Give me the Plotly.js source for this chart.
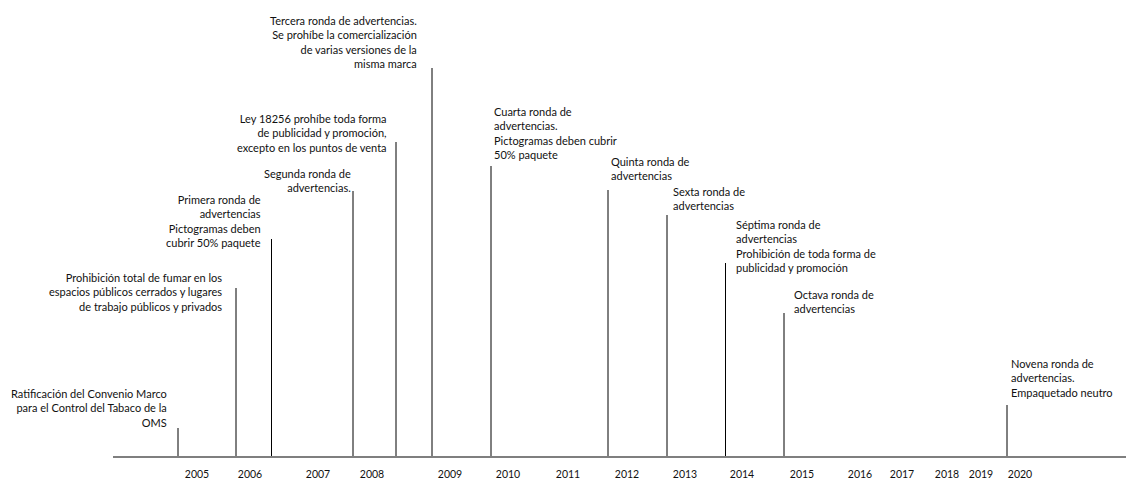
<!DOCTYPE html>
<html>
<head>
<meta charset="utf-8">
<script src="https://cdn.plot.ly/plotly-3.0.1.min.js"></script>
<style>
  html, body { margin: 0; padding: 0; background: #fff; }
  #chart { width: 1126px; height: 479px; }
</style>
</head>
<body>
<div id="chart"></div>
<script>
// ---- Data ----
// Tick labels (years) and their position along the timeline
const tickYears = ["2005","2006","2007","2008","2009","2010","2011","2012","2013","2014","2015","2016","2017","2018","2019","2020"];
const tickPos   = [84, 137, 205, 259, 337, 395, 455, 514, 572, 629, 689, 747, 789, 834, 868, 907];

// Events: position on the timeline, stem height, description
const eventPos    = [65, 123, 158.5, 240, 283, 319, 378, 495, 554, 612.5, 671, 894];
const eventHeight = [28, 168, 217, 265, 314, 388, 290, 266, 241, 193, 143, 51];
const eventText = [
  "Ratificación del Convenio Marco<br>para el Control del Tabaco de la<br>OMS",
  "Prohibición total de fumar en los<br>espacios públicos cerrados y lugares<br>de trabajo públicos y privados",
  "Primera ronda de<br>advertencias<br>Pictogramas deben<br>cubrir 50% paquete",
  "Segunda ronda de<br>advertencias.",
  "Ley 18256 prohíbe toda forma<br>de publicidad y promoción,<br>excepto en los puntos de venta",
  "Tercera ronda de advertencias.<br>Se prohíbe la comercialización<br>de varias versiones de la<br>misma marca",
  "Cuarta ronda de<br>advertencias.<br>Pictogramas deben cubrir<br>50% paquete",
  "Quinta ronda de<br>advertencias",
  "Sexta ronda de<br>advertencias",
  "Séptima ronda de<br>advertencias<br>Prohibición de toda forma de<br>publicidad y promoción",
  "Octava ronda de<br>advertencias",
  "Novena ronda de<br>advertencias.<br>Empaquetado neutro"
];

// ---- Label placement (layout only) ----
const labelSide = ["l","l","l","l","l","l","r","r","r","r","r","r"];
const labelX    = [55, 110, 149, 239, 275, 305, 380, 497, 559, 622, 680, 897];
const labelY    = [26.5, 142.5, 206.5, 261.5, 301.5, 385.5, 294.5, 273.5, 243.5, 181.5, 140.5, 56.5];

// Build stems
const sx = [], sy = [];
eventPos.forEach((p, i) => { sx.push(p, p, null); sy.push(0, eventHeight[i], null); });

const traces = [{
  type: "scatter", mode: "lines", x: sx, y: sy,
  line: { color: "#000", width: 1 }, hoverinfo: "skip", showlegend: false
}];

const FONT = "Lato, 'Open Sans', sans-serif";
const annotations = eventText.map((t, i) => ({
  x: labelX[i], y: labelY[i], xref: "x", yref: "y",
  text: t, showarrow: false,
  xanchor: labelSide[i] === "l" ? "right" : "left",
  yanchor: "bottom",
  align: labelSide[i] === "l" ? "right" : "left",
  font: { family: FONT, size: 11, color: "#111" },
  borderpad: 0
}));

const layout = {
  width: 1126, height: 479,
  margin: { l: 113, r: 0, t: 0, b: 23, pad: 0 },
  paper_bgcolor: "#fff", plot_bgcolor: "#fff",
  showlegend: false,
  xaxis: {
    range: [0, 1013], showgrid: false, zeroline: false,
    showline: true, linecolor: "#7f7f7f", linewidth: 2,
    tickmode: "array", tickvals: tickPos, ticktext: tickYears,
    ticks: "outside", ticklen: 7, tickcolor: "rgba(0,0,0,0)",
    tickfont: { family: FONT, size: 10.5, color: "#111" },
    fixedrange: true
  },
  yaxis: {
    range: [0, 456], visible: false, showgrid: false, zeroline: false, fixedrange: true
  },
  annotations: annotations
};

Plotly.newPlot("chart", traces, layout, { displayModeBar: false, staticPlot: true });
</script>
</body>
</html>
